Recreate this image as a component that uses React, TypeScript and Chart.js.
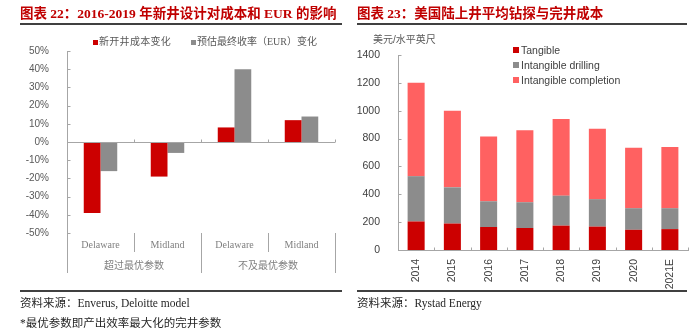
import React, { useEffect, useRef } from "react";
import { Chart, registerables } from "chart.js";

Chart.register(...registerables);

// ---- Chart 22 data ----
const pctCategories = ["Delaware", "Midland", "Delaware", "Midland"];
const pctGroups = ["超过最优参数", "不及最优参数"];
const pctLegend = ["新开井成本变化", "预估最终收率（EUR）变化"];
const costChange = [-39, -19, 8, 12];
const eurChange = [-16, -6, 40, 14];
const pctTicks = { min: -50, max: 50, step: 10 };

// ---- Chart 23 data ----
const years = ["2014", "2015", "2016", "2017", "2018", "2019", "2020", "2021E"];
const costLegend = ["Tangible", "Intangible drilling", "Intangible completion"];
const tangible = [205, 190, 165, 158, 175, 168, 145, 150];
const intangibleDrilling = [325, 260, 185, 185, 215, 197, 155, 150];
const intangibleCompletion = [670, 550, 465, 517, 550, 505, 435, 440];
const costTicks = { min: 0, max: 1400, step: 200 };

const RED = "#cc0000";
const GREY = "#8c8c8c";
const PINK = "#ff6161";
const AXIS = "#a6a6a6";

const serifCJK = '"Liberation Serif", "Noto Sans CJK SC", serif';
const sansCJK = '"Liberation Sans", "Noto Sans CJK SC", sans-serif';

const crisp = (v: number) => Math.round(v) + 0.5;

function seg(ctx: CanvasRenderingContext2D, x1: number, y1: number, x2: number, y2: number) {
  ctx.beginPath();
  ctx.moveTo(x1, y1);
  ctx.lineTo(x2, y2);
  ctx.stroke();
}

const pctDecor = {
  id: "pctDecor",
  afterDraw(chart: any) {
    const { ctx, chartArea } = chart;
    const { left, right, bottom } = chartArea;
    const xs = chart.scales.x;
    const ys = chart.scales.y;
    ctx.save();
    ctx.strokeStyle = AXIS;
    ctx.lineWidth = 1;
    const y0 = crisp(ys.getPixelForValue(0));
    const ax = crisp(left);
    seg(ctx, ax, y0, right, y0);
    ys.ticks.forEach((t: any) => {
      const py = crisp(ys.getPixelForValue(t.value));
      seg(ctx, ax, py, ax + 3, py);
    });
    const n = pctCategories.length;
    const bounds: number[] = [left];
    for (let i = 0; i < n - 1; i++) bounds.push((xs.getPixelForValue(i) + xs.getPixelForValue(i + 1)) / 2);
    bounds.push(right);
    bounds.forEach((b, i) => {
      const bx = crisp(b);
      if (i > 0) seg(ctx, bx, y0, bx, y0 - 3);
      seg(ctx, bx, bottom, bx, bottom + (i % 2 === 0 ? 40 : 19));
    });
    ctx.fillStyle = "#7f7f7f";
    ctx.textAlign = "center";
    ctx.textBaseline = "middle";
    ctx.font = '10px "Liberation Serif"';
    pctCategories.forEach((c, i) => ctx.fillText(c, xs.getPixelForValue(i), bottom + 12));
    ctx.font = '10px "Noto Sans CJK SC"';
    pctGroups.forEach((g, gi) => ctx.fillText(g, (bounds[gi * 2] + bounds[gi * 2 + 2]) / 2, bottom + 32.5));
    ctx.restore();
  },
};

const costDecor = {
  id: "costDecor",
  afterDraw(chart: any) {
    const { ctx, chartArea } = chart;
    const { left, right, bottom } = chartArea;
    const xs = chart.scales.x;
    const ys = chart.scales.y;
    ctx.save();
    ctx.strokeStyle = AXIS;
    ctx.lineWidth = 1;
    const ax = crisp(left);
    ys.ticks.forEach((t: any) => {
      const py = crisp(ys.getPixelForValue(t.value));
      seg(ctx, ax, py, ax + 3, py);
    });
    const n = years.length;
    const y0 = crisp(bottom);
    for (let i = 0; i < n - 1; i++) {
      const bx = crisp((xs.getPixelForValue(i) + xs.getPixelForValue(i + 1)) / 2);
      seg(ctx, bx, y0, bx, y0 - 3);
    }
    seg(ctx, crisp(right), y0, crisp(right), y0 - 3);
    ctx.restore();
  },
};

export default function App() {
  const leftRef = useRef<HTMLCanvasElement>(null);
  const rightRef = useRef<HTMLCanvasElement>(null);

  useEffect(() => {
    const left = new Chart(leftRef.current as HTMLCanvasElement, {
      type: "bar",
      data: {
        labels: pctCategories,
        datasets: [
          { label: pctLegend[0], data: costChange, backgroundColor: RED, categoryPercentage: 0.5, barPercentage: 1 },
          { label: pctLegend[1], data: eurChange, backgroundColor: GREY, categoryPercentage: 0.5, barPercentage: 1 },
        ],
      },
      options: {
        responsive: false,
        animation: false,
        layout: { padding: { left: 0, right: 15, top: 51, bottom: 102 } },
        plugins: { legend: { display: false }, tooltip: { enabled: false } },
        scales: {
          x: { display: false },
          y: {
            min: pctTicks.min,
            max: pctTicks.max,
            ticks: {
              stepSize: pctTicks.step,
              callback: (v: any) => v + "%",
              font: { family: "Liberation Sans", size: 10 },
              color: "#595959",
              padding: 10,
            },
            grid: { display: false },
            border: { color: AXIS },
            afterFit: (s: any) => {
              s.width = 67;
              s.paddingTop = 0;
              s.paddingBottom = 0;
            },
          },
        },
      },
      plugins: [pctDecor],
    } as any);

    const right = new Chart(rightRef.current as HTMLCanvasElement, {
      type: "bar",
      data: {
        labels: years,
        datasets: [
          { label: costLegend[0], data: tangible, backgroundColor: RED },
          { label: costLegend[1], data: intangibleDrilling, backgroundColor: GREY },
          { label: costLegend[2], data: intangibleCompletion, backgroundColor: PINK },
        ],
      },
      options: {
        responsive: false,
        animation: false,
        datasets: { bar: { barPercentage: 0.47, categoryPercentage: 1 } },
        layout: { padding: { left: 0, right: 12, top: 55, bottom: 45 } },
        plugins: { legend: { display: false }, tooltip: { enabled: false } },
        scales: {
          x: {
            stacked: true,
            grid: { display: false },
            border: { color: AXIS },
            ticks: {
              minRotation: 90,
              maxRotation: 90,
              autoSkip: false,
              font: { family: "Liberation Sans", size: 10.5 },
              color: "#404040",
              padding: 1,
            },
            afterFit: (s: any) => {
              s.height = 40;
              s.paddingLeft = 0;
              s.paddingRight = 0;
            },
          },
          y: {
            stacked: true,
            min: costTicks.min,
            max: costTicks.max,
            ticks: {
              stepSize: costTicks.step,
              callback: (v: any) => String(v),
              font: { family: "Liberation Sans", size: 10.5 },
              color: "#404040",
              padding: 10,
            },
            grid: { display: false },
            border: { color: AXIS },
            afterFit: (s: any) => {
              s.width = 48;
              s.paddingTop = 0;
              s.paddingBottom = 0;
            },
          },
        },
      },
      plugins: [costDecor],
    } as any);

    return () => {
      left.destroy();
      right.destroy();
    };
  }, []);

  const text = (
    key: string,
    content: React.ReactNode,
    left: number,
    cy: number,
    size: number,
    extra: React.CSSProperties = {}
  ) => {
    const h = Math.round(size * 1.6);
    return (
      <div
        key={key}
        style={{
          position: "absolute",
          left,
          top: cy - h / 2,
          height: h,
          lineHeight: h + "px",
          fontSize: size,
          whiteSpace: "nowrap",
          ...extra,
        }}
      >
        {content}
      </div>
    );
  };

  const rule = (key: string, left: number, top: number, width: number, h = 2) => (
    <div key={key} style={{ position: "absolute", left, top, width, height: h, background: "#404040" }} />
  );

  const square = (key: string, left: number, cy: number, size: number, color: string) => (
    <div
      key={key}
      style={{ position: "absolute", left, top: cy - size / 2, width: size, height: size, background: color }}
    />
  );

  const titleStyle: React.CSSProperties = { fontFamily: serifCJK, fontWeight: "bold", color: "#c00000" };
  const srcStyle: React.CSSProperties = { fontFamily: serifCJK, color: "#262626" };

  return (
    <div
      style={{
        position: "absolute",
        left: 0,
        top: 0,
        width: 700,
        height: 335,
        background: "#ffffff",
        overflow: "hidden",
      }}
    >
      <canvas ref={leftRef} width={350} height={335} style={{ position: "absolute", left: 0, top: 0 }} />
      <canvas ref={rightRef} width={350} height={335} style={{ position: "absolute", left: 350, top: 0 }} />

      {text("t1", "图表 22：2016-2019 年新井设计对成本和 EUR 的影响", 20, 14, 13.5, titleStyle)}
      {rule("r1", 20, 23, 322)}
      {text("t2", "图表 23：美国陆上井平均钻探与完井成本", 357, 14, 13.5, titleStyle)}
      {rule("r2", 357, 23, 330)}

      {square("l1s", 93, 42, 5, RED)}
      {text("l1", pctLegend[0], 99, 42, 10, { fontFamily: serifCJK, color: "#595959", letterSpacing: 0.3 })}
      {square("l2s", 191, 42, 5, GREY)}
      {text("l2", pctLegend[1], 197, 42, 10, { fontFamily: serifCJK, color: "#595959" })}

      {text("unit", "美元/水平英尺", 373, 40, 10, { fontFamily: sansCJK, color: "#595959" })}
      {costLegend.map((lab, i) => [
        square("cs" + i, 513, 50 + i * 15, 6, [RED, GREY, PINK][i]),
        text("ct" + i, lab, 521, 50 + i * 15, 10.5, { fontFamily: "Liberation Sans", color: "#404040" }),
      ])}

      {rule("r3", 20, 290, 322)}
      {rule("r4", 357, 290, 330)}
      {text("s1", "资料来源：Enverus, Deloitte model", 20, 303, 11.5, srcStyle)}
      {text("s2", "*最优参数即产出效率最大化的完井参数", 20, 323, 11.5, srcStyle)}
      {text("s3", "资料来源：Rystad Energy", 357, 303, 11.5, srcStyle)}
    </div>
  );
}
